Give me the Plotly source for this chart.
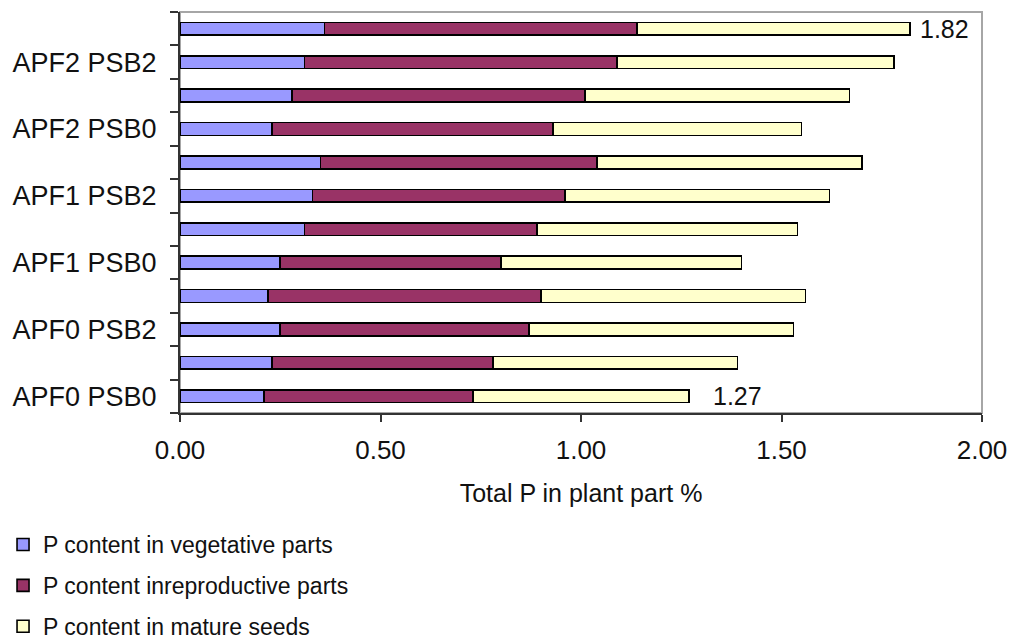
import plotly.graph_objects as go

# Treatments, bottom to top (3 APF levels x 4 PSB levels)
categories = [
    "APF0 PSB0", "APF0 PSB1", "APF0 PSB2", "APF0 PSB3",
    "APF1 PSB0", "APF1 PSB1", "APF1 PSB2", "APF1 PSB3",
    "APF2 PSB0", "APF2 PSB1", "APF2 PSB2", "APF2 PSB3",
]
# Only every other category is labelled on the axis
tick_labels = [c if i % 2 == 0 else "" for i, c in enumerate(categories)]

# P content (%) per plant part
vegetative = [0.21, 0.23, 0.25, 0.22, 0.25, 0.31, 0.33, 0.35, 0.23, 0.28, 0.31, 0.36]
reproductive = [0.52, 0.55, 0.62, 0.68, 0.55, 0.58, 0.63, 0.69, 0.70, 0.73, 0.78, 0.78]
seeds = [0.54, 0.61, 0.66, 0.66, 0.60, 0.65, 0.66, 0.66, 0.62, 0.66, 0.69, 0.68]

series_names = [
    "P content in vegetative parts",
    "P content inreproductive parts",
    "P content in mature seeds",
]
series_colors = ["#9999FF", "#993366", "#FFFFCC"]

# Totals are labelled for the lowest and highest treatment
labelled = ["APF0 PSB0", "APF2 PSB3"]

FONT = "Liberation Sans, Arial, sans-serif"
TEXT = "#111111"

fig = go.Figure()
for i, (name, vals, col) in enumerate(zip(series_names, [vegetative, reproductive, seeds], series_colors)):
    fig.add_trace(go.Bar(
        y=categories,
        x=vals,
        name=name,
        orientation="h",
        legendgroup=f"g{i}",
        marker=dict(color=col, line=dict(color="#000000", width=1.6)),
        hoverinfo="x+y+name",
    ))

totals = [round(a + b + c, 2) for a, b, c in zip(vegetative, reproductive, seeds)]
label_shift = {"APF0 PSB0": 22, "APF2 PSB3": 8}
for cat in labelled:
    idx = categories.index(cat)
    fig.add_annotation(
        x=totals[idx], y=cat, xref="x", yref="y",
        text=f"{totals[idx]:.2f}", showarrow=False,
        xanchor="left", yanchor="middle", xshift=label_shift[cat],
        font=dict(family=FONT, size=25, color=TEXT),
    )

# Light grey frame on the top and right of the plot area
fig.add_shape(type="rect", xref="paper", yref="paper", x0=0, y0=0, x1=1, y1=1,
              line=dict(color="#A6A6A6", width=2), layer="below")

fig.update_layout(
    width=1011, height=641,
    margin=dict(l=180, r=29, t=12, b=228, autoexpand=False),
    barmode="stack",
    bargap=0.62,
    plot_bgcolor="#FFFFFF",
    paper_bgcolor="#FFFFFF",
    font=dict(family=FONT, size=25, color=TEXT),
    showlegend=True,
    legend=dict(
        xref="container", yref="container",
        x=0.003, xanchor="left",
        y=0.184, yanchor="top",
        orientation="v",
        traceorder="grouped",
        tracegroupgap=8,
        font=dict(family=FONT, size=23, color=TEXT),
        bgcolor="rgba(0,0,0,0)",
    ),
    xaxis=dict(
        range=[0, 2],
        dtick=0.5,
        tickformat=".2f",
        automargin=False,
        showgrid=False,
        zeroline=False,
        showline=True,
        linecolor="#333333",
        linewidth=2,
        ticks="outside",
        ticklen=7,
        tickwidth=1.5,
        tickcolor="#333333",
        tickfont=dict(family=FONT, size=26, color=TEXT),
        ticklabelstandoff=6,
        title=dict(text="Total P in plant part %", font=dict(family=FONT, size=25, color=TEXT), standoff=20),
    ),
    yaxis=dict(
        type="category",
        categoryorder="array",
        categoryarray=categories,
        tickmode="array",
        tickvals=categories,
        ticktext=tick_labels,
        tickson="boundaries",
        automargin=False,
        showgrid=False,
        zeroline=False,
        showline=True,
        linecolor="#333333",
        linewidth=2,
        ticks="outside",
        ticklen=8,
        tickwidth=1.5,
        tickcolor="#333333",
        tickfont=dict(family=FONT, size=27, color=TEXT),
        ticklabelstandoff=16,
    ),
)

fig.write_html("out.html")
